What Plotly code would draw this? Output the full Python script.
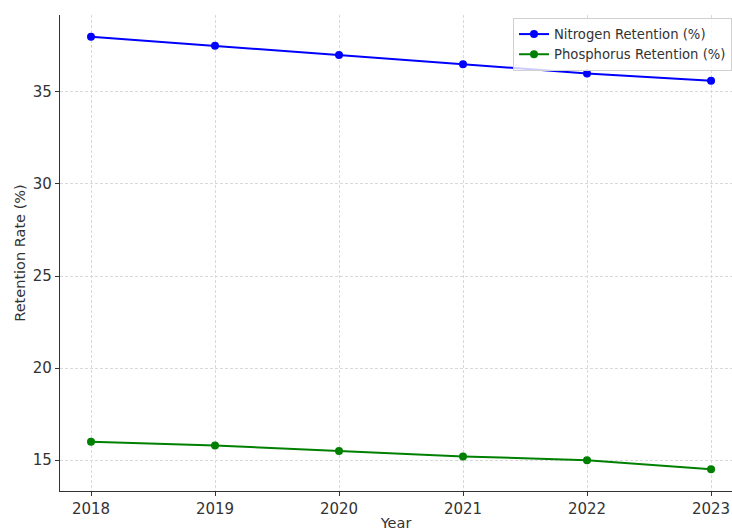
import plotly.graph_objects as go

years = [2018, 2019, 2020, 2021, 2022, 2023]
nitrogen = [38.0, 37.5, 37.0, 36.5, 36.0, 35.6]
phosphorus = [16.0, 15.8, 15.5, 15.2, 15.0, 14.5]

fig = go.Figure()
fig.add_trace(go.Scatter(x=years, y=nitrogen, mode="lines+markers", name="Nitrogen Retention (%)",
                         line=dict(color="blue", width=2), marker=dict(color="blue", size=8)))
fig.add_trace(go.Scatter(x=years, y=phosphorus, mode="lines+markers", name="Phosphorus Retention (%)",
                         line=dict(color="green", width=2), marker=dict(color="green", size=8)))

axis_common = dict(showgrid=True, gridcolor="#d9d9d9", griddash="3px,2px", gridwidth=0.8,
                   showline=True, linecolor="#333333", linewidth=1.2,
                   ticks="outside", ticklen=4, tickcolor="#333333",
                   tickfont=dict(family="DejaVu Sans", size=15, color="#333333"),
                   zeroline=False, automargin=False)

fig.update_xaxes(range=[2017.75, 2023.169], tickvals=years, ticktext=[str(y) for y in years],
                 title=dict(text="Year", font=dict(family="DejaVu Sans", size=14.5, color="#333333"), standoff=4),
                 **axis_common)
fig.update_yaxes(range=[13.325, 39.175], tickvals=[15, 20, 25, 30, 35],
                 title=dict(text="Retention Rate (%)", font=dict(family="DejaVu Sans", size=14.5, color="#333333"), standoff=3),
                 **axis_common)

fig.update_layout(width=732, height=531, margin=dict(l=60, r=0, t=15, b=40, autoexpand=False),
                  plot_bgcolor="white", paper_bgcolor="white",
                  font=dict(family="DejaVu Sans", color="#333333"),
                  legend=dict(x=1.0, y=0.9937, xanchor="right", yanchor="top",
                              bgcolor="rgba(255,255,255,0.8)", bordercolor="#d0d0d0", borderwidth=1,
                              font=dict(family="DejaVu Sans", size=13.2, color="#333333"),
                              tracegroupgap=0, itemwidth=30))

fig.write_html("out.html", config={"displayModeBar": False},
               post_script="document.body.style.margin='0';document.body.style.padding='0';")
